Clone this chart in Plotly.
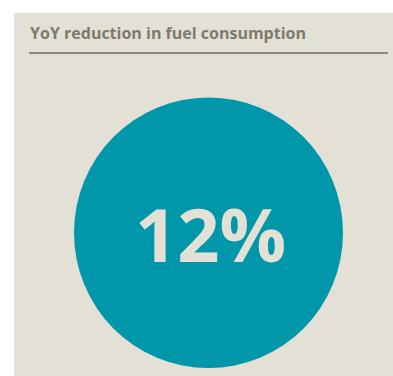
import plotly.graph_objects as go

title_text = "YoY reduction in fuel consumption"
metric_values = [12]
metric_suffix = "%"

W, H = 393, 376
BEIGE = "#e3e1d5"
TEAL = "#0097aa"
TITLE_COLOR = "#7c7b6c"
RULE_COLOR = "#8b8a7a"

fig = go.Figure()

# invisible trace to establish axes
fig.add_trace(go.Scatter(x=[0, W], y=[0, H], mode="markers",
                         marker=dict(opacity=0), hoverinfo="skip", showlegend=False))

shapes = [
    dict(type="rect", xref="x", yref="y", x0=14, x1=W, y0=13, y1=H,
         fillcolor=BEIGE, line=dict(width=0), layer="below"),
    dict(type="line", xref="x", yref="y", x0=29, x1=388, y0=53, y1=53,
         line=dict(color=RULE_COLOR, width=2)),
    dict(type="circle", xref="x", yref="y", x0=74, x1=343, y0=97.5, y1=368,
         fillcolor=TEAL, line=dict(width=0)),
]

annotations = [
    dict(x=28, y=33, xref="x", yref="y", xanchor="left", yanchor="middle",
         text="<b>" + title_text + "</b>", showarrow=False,
         font=dict(family="Open Sans", size=16, color=TITLE_COLOR)),
    dict(x=210, y=233, xref="x", yref="y", xanchor="center", yanchor="middle",
         text="<b>%d%s</b>" % (metric_values[0], metric_suffix), showarrow=False,
         font=dict(family="Open Sans", size=74, color=BEIGE)),
]

fig.update_layout(
    width=W, height=H, margin=dict(l=0, r=0, t=0, b=0),
    paper_bgcolor="white", plot_bgcolor="rgba(0,0,0,0)",
    xaxis=dict(range=[0, W], visible=False, fixedrange=True),
    yaxis=dict(range=[H, 0], visible=False, fixedrange=True),
    shapes=shapes, annotations=annotations, showlegend=False,
)

fig.write_html("out.html", config={"displayModeBar": False})
